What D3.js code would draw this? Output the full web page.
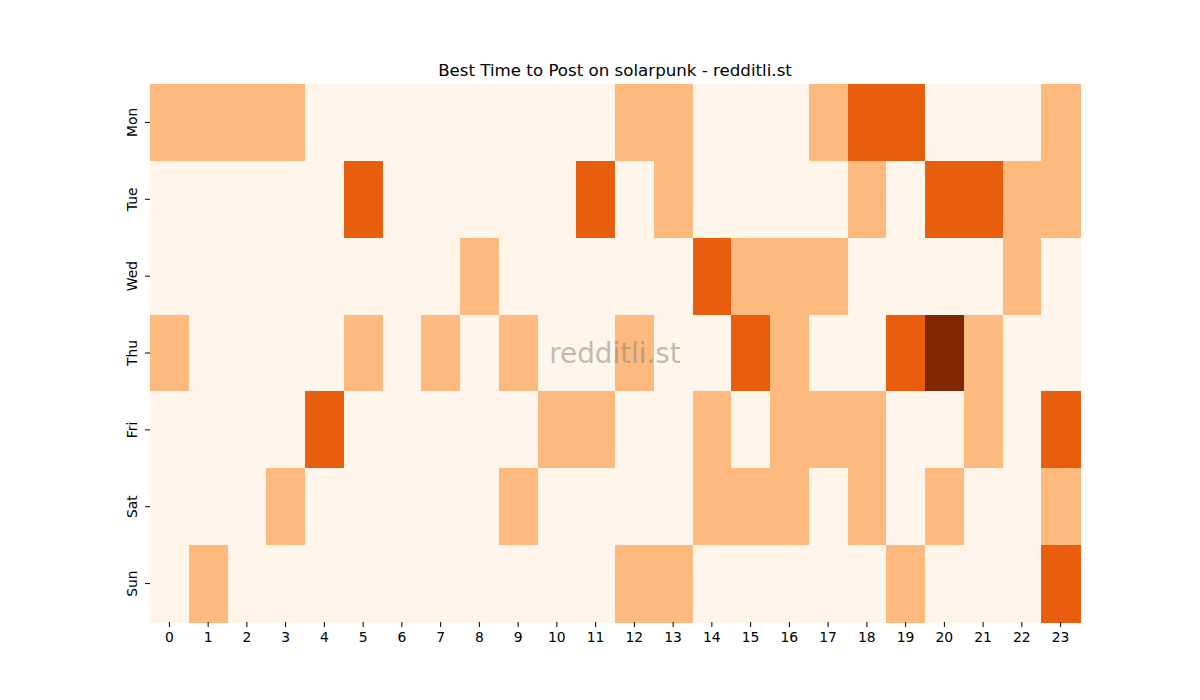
<!DOCTYPE html>
<html>
<head>
<meta charset="utf-8">
<script src="https://cdn.jsdelivr.net/npm/d3@7"></script>
<style>
  body { margin: 0; background: #fff; }
  text { font-family: "DejaVu Sans", sans-serif; }
</style>
</head>
<body>
<div id="chart"></div>
<script>
const days = ['Mon', 'Tue', 'Wed', 'Thu', 'Fri', 'Sat', 'Sun']
const hours = d3.range(24)

// posts per day/hour
const mon = [1, 1, 1, 1, 0, 0, 0, 0, 0, 0, 0, 0, 1, 1, 0, 0, 0, 1, 2, 2, 0, 0, 0, 1]
const tue = [0, 0, 0, 0, 0, 2, 0, 0, 0, 0, 0, 2, 0, 1, 0, 0, 0, 0, 1, 0, 2, 2, 1, 1]
const wed = [0, 0, 0, 0, 0, 0, 0, 0, 1, 0, 0, 0, 0, 0, 2, 1, 1, 1, 0, 0, 0, 0, 1, 0]
const thu = [1, 0, 0, 0, 0, 1, 0, 1, 0, 1, 0, 0, 1, 0, 0, 2, 1, 0, 0, 2, 3, 1, 0, 0]
const fri = [0, 0, 0, 0, 2, 0, 0, 0, 0, 0, 1, 1, 0, 0, 1, 0, 1, 1, 1, 0, 0, 1, 0, 2]
const sat = [0, 0, 0, 1, 0, 0, 0, 0, 0, 1, 0, 0, 0, 0, 1, 1, 1, 0, 1, 0, 1, 0, 0, 1]
const sun = [0, 1, 0, 0, 0, 0, 0, 0, 0, 0, 0, 0, 1, 1, 0, 0, 0, 0, 0, 1, 0, 0, 0, 2]
const values = [mon, tue, wed, thu, fri, sat, sun]

const width = 1200
const height = 700
const margin = { top: 84, right: 120, bottom: 78, left: 150 }

const svg = d3
  .select('#chart')
  .append('svg')
  .attr('width', width)
  .attr('height', height)

const x = d3.scaleBand()
  .domain(hours)
  .range([margin.left, width - margin.right])

const y = d3.scaleBand()
  .domain(days)
  .range([margin.top, height - margin.bottom])

const color = d3.scaleSequential(d3.interpolateOranges).domain([0, 3])

const cells = []
values.forEach((row, i) => {
  row.forEach((v, h) => cells.push({ day: days[i], hour: h, value: v }))
})

svg.append('g')
  .attr('shape-rendering', 'crispEdges')
  .selectAll('rect')
  .data(cells)
  .enter()
  .append('rect')
  .attr('x', d => x(d.hour))
  .attr('y', d => y(d.day))
  .attr('width', x.bandwidth() + 0.5)
  .attr('height', y.bandwidth() + 0.5)
  .attr('fill', d => color(d.value))

const xAxis = svg.append('g')
  .attr('transform', `translate(0,${height - margin.bottom})`)
  .call(d3.axisBottom(x).tickSize(5).tickPadding(5))
xAxis.select('.domain').remove()
xAxis.selectAll('text').attr('font-size', 13.9).attr('fill', '#000')
  .attr('font-family', '"DejaVu Sans", sans-serif')

const yAxis = svg.append('g')
  .attr('transform', `translate(${margin.left},0)`)
  .call(d3.axisLeft(y).tickSize(5).tickPadding(5))
yAxis.select('.domain').remove()
yAxis.selectAll('text')
  .attr('font-size', 13.9)
  .attr('fill', '#000')
  .attr('font-family', '"DejaVu Sans", sans-serif')
  .attr('x', null)
  .attr('dy', null)
  .attr('text-anchor', 'middle')
  .attr('transform', 'translate(-17,0) rotate(-90)')
  .attr('dominant-baseline', 'auto')
  .attr('y', 4)

svg.append('text')
  .attr('x', (margin.left + width - margin.right) / 2)
  .attr('y', 76)
  .attr('text-anchor', 'middle')
  .attr('font-size', 16.67)
  .attr('fill', '#000')
  .text('Best Time to Post on solarpunk - redditli.st')

svg.append('text')
  .attr('x', (margin.left + width - margin.right) / 2)
  .attr('y', 363)
  .attr('text-anchor', 'middle')
  .attr('font-size', 27.8)
  .attr('fill', '#808080')
  .attr('fill-opacity', 0.5)
  .text('redditli.st')
</script>
</body>
</html>
